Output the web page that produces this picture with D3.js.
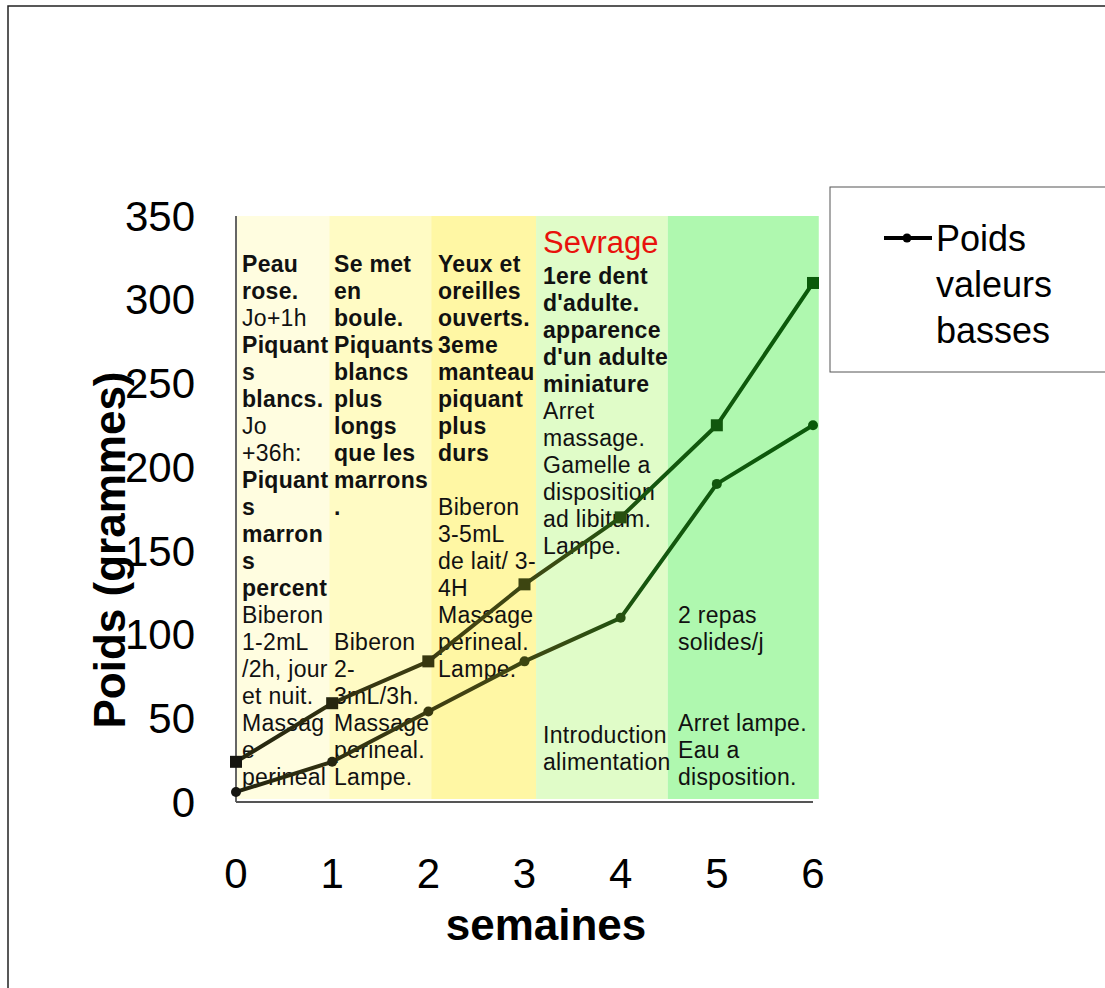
<!DOCTYPE html>
<html>
<head>
<meta charset="utf-8">
<script src="https://cdn.jsdelivr.net/npm/d3@7"></script>
<style>
  html, body { margin: 0; padding: 0; background: #fff; }
  svg { display: block; }
  text { font-family: "Liberation Sans", Arial, sans-serif; }
</style>
</head>
<body>
<svg id="chart" width="1105" height="988"></svg>
<script>
// ---------- data ----------
const weeks = [0, 1, 2, 3, 4, 5, 6];
const poidsHaut = [24, 59, 84, 130, 170, 225, 310];   // série à carrés
const poidsBas  = [6, 24, 54, 84, 110, 190, 225];     // "Poids valeurs basses" (ronds)
const yTicks = [0, 50, 100, 150, 200, 250, 300, 350];
const xTicks = [0, 1, 2, 3, 4, 5, 6];
const bandStart = [0, 0.97, 2.03, 3.12, 4.49];
const bandEnd   = [0.97, 2.03, 3.12, 4.49, 6.06];
const legendLabel = ["Poids", "valeurs", "basses"];
const yTitle = "Poids (grammes)";
const xTitle = "semaines";
const sevrage = "Sevrage";
// '*' prefix = bold line, "" = empty line
const col1 = ["*Peau","*rose.","Jo+1h","*Piquant","*s","*blancs.","Jo","+36h:","*Piquant","*s","*marron","*s","*percent",
  "Biberon","1-2mL","/2h, jour","et nuit.","Massag","e","perineal"];
const col2 = ["*Se met","*en","*boule.","*Piquants","*blancs","*plus","*longs","*que les","*marrons","*.","","","","",
  "Biberon","2-","3mL/3h.","Massage","perineal.","Lampe."];
const col3 = ["*Yeux et","*oreilles","*ouverts.","*3eme","*manteau","*piquant","*plus","*durs","",
  "Biberon","3-5mL","de lait/ 3-","4H","Massage","perineal.","Lampe."];
const col4 = ["*1ere dent","*d'adulte.","*apparence","*d'un adulte","*miniature","Arret","massage.","Gamelle a",
  "disposition","ad libitum.","Lampe.","","","","","","","Introduction","alimentation"];
const col5 = ["","","","","","","","","","","","","","2 repas","solides/j","","","Arret lampe.","Eau a","disposition."];

// ---------- styles / layout ----------
const bandColors = ["#FFFDE0", "#FFFBC4", "#FFF7A4", "#E0FCC8", "#AFF8AF"];
const svg = d3.select("#chart");

const x = d3.scaleLinear().domain([0, 6]).range([236, 813]);
const y = d3.scaleLinear().domain([0, 350]).range([802, 216]);

// outer frame
svg.append("rect").attr("x", 8).attr("y", 6).attr("width", 1200).attr("height", 1100)
  .attr("fill", "none").attr("stroke", "#222").attr("stroke-width", 1.5);

// bands
svg.selectAll("rect.band").data(bandStart).join("rect").attr("class", "band")
  .attr("x", (d) => x(d))
  .attr("width", (d, i) => x(bandEnd[i]) - x(d))
  .attr("y", y(350))
  .attr("height", y(0) - 3 - y(350))
  .attr("fill", (d, i) => bandColors[i]);

// axes lines
svg.append("line").attr("x1", x(0)).attr("x2", x(0)).attr("y1", y(350)).attr("y2", y(0))
  .attr("stroke", "#666").attr("stroke-width", 2);
svg.append("line").attr("x1", x(0)).attr("x2", x(6)).attr("y1", y(0)).attr("y2", y(0))
  .attr("stroke", "#555").attr("stroke-width", 2);

// tick labels
svg.selectAll("text.yt").data(yTicks).join("text").attr("class", "yt")
  .attr("x", 195).attr("y", (d) => y(d)).attr("dy", "0.35em")
  .attr("text-anchor", "end").attr("font-size", 42).attr("fill", "#000").text((d) => d);
svg.selectAll("text.xt").data(xTicks).join("text").attr("class", "xt")
  .attr("x", (d) => x(d)).attr("y", 888)
  .attr("text-anchor", "middle").attr("font-size", 42).attr("fill", "#000").text((d) => d);

// axis titles
svg.append("text").attr("transform", "translate(125,550) rotate(-90)")
  .attr("text-anchor", "middle").attr("font-size", 44).attr("font-weight", "bold").text(yTitle);
svg.append("text").attr("x", 546).attr("y", 940)
  .attr("text-anchor", "middle").attr("font-size", 44).attr("font-weight", "bold").text(xTitle);

// column texts
const lineH = 27;
function column(lines, x0, yTop) {
  const g = svg.append("g");
  g.selectAll("text").data(lines).join("text")
    .attr("x", x0)
    .attr("y", (d, i) => yTop + i * lineH)
    .attr("dy", "0.35em")
    .attr("font-size", 23)
    .attr("letter-spacing", 0.3)
    .attr("font-weight", (d) => d.startsWith("*") ? "bold" : "normal")
    .attr("fill", "#111")
    .text((d) => d.replace(/^\*/, ""));
}
column(col1, 242, 264);
column(col2, 334, 264);
column(col3, 438, 264);
column(col4, 543, 276);
column(col5, 678, 264);
svg.append("text").attr("x", 543).attr("y", 242).attr("dy", "0.35em")
  .attr("font-size", 31).attr("fill", "#E8120C").text(sevrage);

// line gradient
const defs = svg.append("defs");
const grad = defs.append("linearGradient").attr("id", "lg").attr("gradientUnits", "userSpaceOnUse")
  .attr("x1", x(0)).attr("x2", x(6)).attr("y1", 0).attr("y2", 0);
[["0%", "#24240f"], ["40%", "#424212"], ["55%", "#3a4a12"], ["72%", "#14560e"], ["100%", "#0a5a0a"]]
  .forEach(([o, c]) => grad.append("stop").attr("offset", o).attr("stop-color", c));

const line = d3.line().x((d, i) => x(weeks[i])).y((d) => y(d));
svg.append("path").datum(poidsHaut).attr("d", line).attr("fill", "none")
  .attr("stroke", "url(#lg)").attr("stroke-width", 4).attr("stroke-linejoin", "round");
svg.append("path").datum(poidsBas).attr("d", line).attr("fill", "none")
  .attr("stroke", "url(#lg)").attr("stroke-width", 4).attr("stroke-linejoin", "round");

const markColor = d3.scaleLinear().domain([0, 2.5, 3.5, 4.5, 6])
  .range(["#151510", "#40400f", "#3a4a12", "#14560e", "#0a5a0a"]);
svg.selectAll("rect.sq").data(poidsHaut).join("rect").attr("class", "sq")
  .attr("x", (d, i) => x(weeks[i]) - 6).attr("y", (d) => y(d) - 6)
  .attr("width", 12).attr("height", 12)
  .attr("fill", (d, i) => markColor(weeks[i]));
svg.selectAll("circle.pt").data(poidsBas).join("circle").attr("class", "pt")
  .attr("cx", (d, i) => x(weeks[i])).attr("cy", (d) => y(d)).attr("r", 5)
  .attr("fill", (d, i) => markColor(weeks[i]));

// legend
svg.append("rect").attr("x", 830).attr("y", 187).attr("width", 300).attr("height", 185)
  .attr("fill", "#fff").attr("stroke", "#555").attr("stroke-width", 1);
svg.append("line").attr("x1", 884).attr("x2", 932).attr("y1", 238).attr("y2", 238)
  .attr("stroke", "#000").attr("stroke-width", 4);
svg.append("circle").attr("cx", 907).attr("cy", 238).attr("r", 4.5).attr("fill", "#000");
svg.selectAll("text.lg").data(legendLabel).join("text").attr("class", "lg")
  .attr("x", 936).attr("y", (d, i) => 238 + i * 46).attr("dy", "0.35em")
  .attr("font-size", 36).attr("fill", "#000").text((d) => d);
</script>
</body>
</html>
